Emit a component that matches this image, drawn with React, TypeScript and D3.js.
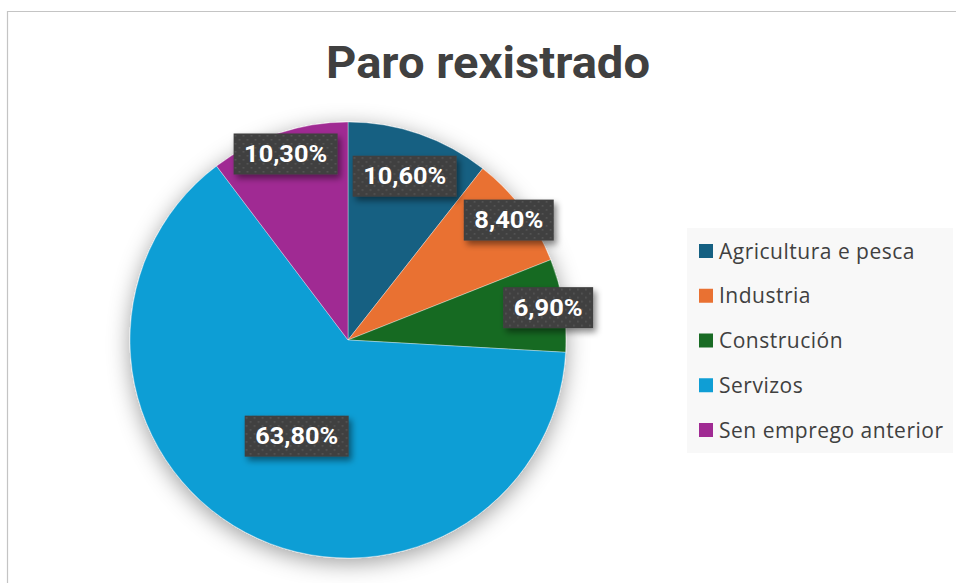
import React from "react";
import * as d3 from "d3";

const categories = ["Agricultura e pesca", "Industria", "Construción", "Servizos", "Sen emprego anterior"];
const values = [10.6, 8.4, 6.9, 63.8, 10.3];
const labels = ["10,60%", "8,40%", "6,90%", "63,80%", "10,30%"];
const colors = ["#156082", "#E97132", "#196B24", "#0F9ED5", "#A02B93"];
const title = "Paro rexistrado";

const W = 956;
const H = 583;
const CX = 348;
const CY = 340;
const R = 218;
// label distance from centre as a fraction of the radius (Excel "best fit")
const labelFrac = [0.795, 0.92, 0.93, 0.5, 0.9];

export default function App() {
  const pie = d3.pie<number>().sort(null).value((d) => d).startAngle(0).endAngle(2 * Math.PI);
  const arcs = pie(values);
  const arcGen = d3.arc<d3.PieArcDatum<number>>().innerRadius(0).outerRadius(R);

  const legendX = 687;
  const legendY = 228;
  const legendW = 266;
  const legendH = 225;
  const rowY = d3.scalePoint<string>().domain(categories).range([251, 430]);

  return (
    <svg
      width={W}
      height={H}
      style={{ position: "absolute", left: 0, top: 0, background: "#ffffff" }}
      fontFamily="'Open Sans', 'Liberation Sans', sans-serif"
    >
      <defs>
        <filter id="pieShadow" x="-30%" y="-30%" width="160%" height="170%">
          <feDropShadow dx="0" dy="5" stdDeviation="11" floodColor="#000" floodOpacity="0.38" />
        </filter>
        <filter id="lblShadow" x="-30%" y="-40%" width="170%" height="200%">
          <feDropShadow dx="3" dy="4" stdDeviation="3" floodColor="#000" floodOpacity="0.45" />
        </filter>
        <pattern id="dots" width="8" height="8" patternUnits="userSpaceOnUse">
          <rect width="8" height="8" fill="#404040" />
          <rect x="1" y="1" width="1.6" height="1.6" fill="#575757" />
          <rect x="5" y="5" width="1.6" height="1.6" fill="#575757" />
        </pattern>
      </defs>

      <rect x={0} y={0} width={W} height={H} fill="#ffffff" />
      <path d={`M7.5,${H} V11.5 H${W}`} fill="none" stroke="#c4c4c4" strokeWidth={1.2} />

      <text
        x={488}
        y={78}
        textAnchor="middle"
        fontSize={44}
        fontWeight={700}
        fill="#404040"
        fontFamily="Roboto, sans-serif"
        textLength={324}
        lengthAdjust="spacingAndGlyphs"
      >
        {title}
      </text>

      <g transform={`translate(${CX},${CY})`}>
        <g filter="url(#pieShadow)">
          {arcs.map((a, i) => (
            <path key={i} d={arcGen(a) || ""} fill={colors[i]} stroke="#ffffff" strokeOpacity={0.5} strokeWidth={0.7} />
          ))}
        </g>
        {arcs.map((a, i) => {
          const lr = R * labelFrac[i];
          const [lx, ly] = d3.arc<d3.PieArcDatum<number>>().innerRadius(lr).outerRadius(lr).centroid(a);
          const bw = 14 * labels[i].length + 20;
          const bh = 41;
          return (
            <g key={"l" + i} transform={`translate(${lx},${ly})`}>
              <rect x={-bw / 2} y={-bh / 2} width={bw} height={bh} fill="url(#dots)" filter="url(#lblShadow)" />
              <text
                x={0}
                y={8}
                textAnchor="middle"
                fontSize={23}
                fontWeight={700}
                fill="#ffffff"
                fontFamily="Roboto, sans-serif"
                textLength={14 * labels[i].length - 1}
                lengthAdjust="spacingAndGlyphs"
              >
                {labels[i]}
              </text>
            </g>
          );
        })}
      </g>

      <g>
        <rect x={legendX} y={legendY} width={legendW} height={legendH} fill="#f8f8f8" />
        {categories.map((c, i) => {
          const y = rowY(c) as number;
          return (
            <g key={c}>
              <rect x={699} y={y - 7} width={14} height={14} fill={colors[i]} />
              <text x={719} y={y + 7.5} fontSize={21} letterSpacing={0.5} fill="#404040">
                {c}
              </text>
            </g>
          );
        })}
      </g>
    </svg>
  );
}
